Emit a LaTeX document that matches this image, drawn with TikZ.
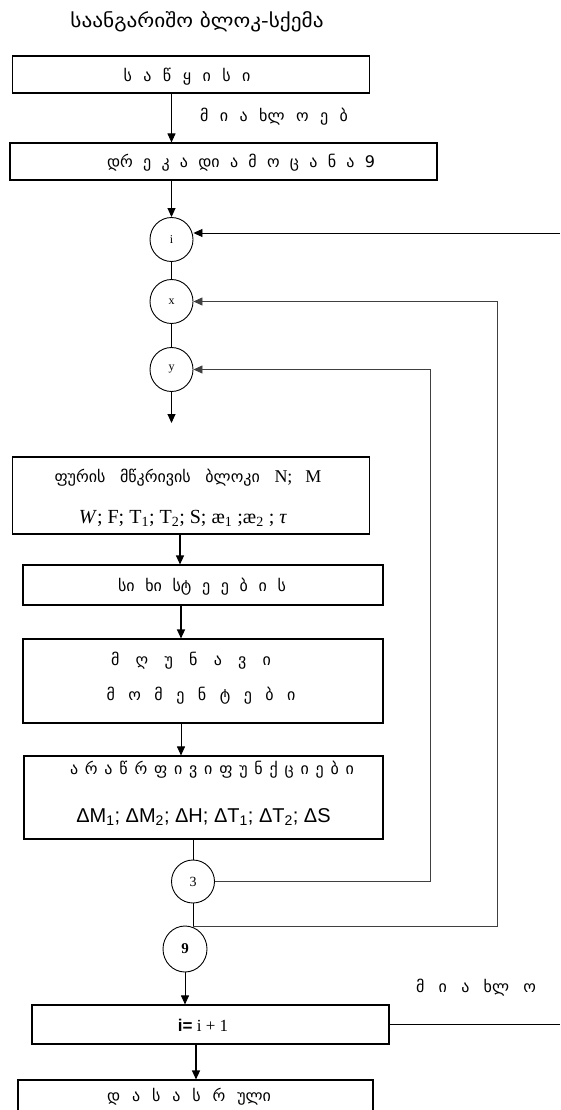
\documentclass[tikz,border=0pt]{standalone}
\usepackage{graphicx}
\usepackage{fontspec}
\setmainfont{Liberation Serif}
\newfontfamily\geo{DejaVu Sans}
\newfontfamily\lsans{Liberation Sans}
\usetikzlibrary{arrows.meta,shapes.geometric}
\begin{document}
\begin{tikzpicture}[x=1pt,y=-1pt,
  box/.style={draw,line width=1.1pt,rectangle,inner sep=0pt},
  conn/.style={ellipse,draw,line width=0.9pt,inner sep=0pt,minimum width=43pt,minimum height=44pt,font=\rmfamily\fontsize{12}{14}\selectfont},
  ln/.style={line width=0.9pt},
  arr/.style={ln,-{Triangle[length=9pt,width=8pt]}},
  loop/.style={arr,line width=0.8pt,draw=black!75},
  gt/.style={inner sep=0pt,font=\geo\fontsize{16}{18}\selectfont},
  lt/.style={inner sep=0pt,font=\rmfamily\fontsize{20}{22}\selectfont},
  st/.style={inner sep=0pt,font=\lsans\fontsize{20}{22}\selectfont},
  ]
\useasboundingbox (0,0) rectangle (560,1110);
% title
\node[inner sep=0pt,font=\geo\fontsize{19}{21}\selectfont] (title) at (197,22) {\scalebox{1.12}[1]{საანგარიშო ბლოკ-სქემა}};
% box 1
\node[box,minimum width=357pt,minimum height=37pt] (b1) at (191,74.5) {};
\node[gt] (t1) at (187,77) {\hbox to 127pt{ს ა წ ყ ი ს ი}};
\node[gt] (l1) at (274,117) {\hbox to 148pt{მ ი ა ხლ ო ე ბ}};
% box 2
\node[box,minimum width=427pt,minimum height=37pt] (b2) at (223.5,161.5) {};
\node[gt] (t2) at (241,163) {\hbox to 268pt{დრ ე კ ა დი ა მ ო ც ა ნ ა 9}};
% connectors i x y
\node[conn] (ci) at (171.5,239.5) {i};
\node[conn] (cx) at (171.5,301.5) {x};
\node[conn] (cy) at (171.5,369.5) {y};
\coordinate (cyo) at (171.5,423);
% box 3
\node[box,minimum width=357pt,minimum height=77pt] (b3) at (191,495.5) {};
\node[gt] (t3a) at (188,478) {\hbox to 267pt{ფურის მწკრივის ბლოკი {\rmfamily\fontsize{18}{20}\selectfont N; M}}};
\node[lt] (t3b) at (183,518) {\textit{W}; F; T\textsubscript{1}; T\textsubscript{2}; S; æ\textsubscript{1} ;æ\textsubscript{2} ; \textit{τ}};
% box 4
\node[box,minimum width=360pt,minimum height=40pt] (b4) at (203,585) {};
\node[gt] (t4) at (202,587) {\hbox to 168pt{სი ხი სტ ე ე ბ ი ს}};
% box 5
\node[box,minimum width=360pt,minimum height=84pt] (b5) at (203,681) {};
\node[gt] (t5a) at (191,661) {\hbox to 160pt{მ ღ უ ნ ა ვ ი}};
\node[gt] (t5b) at (201,696) {\hbox to 189pt{მ ო მ ე ნ ტ ე ბ ი}};
% box 6
\node[box,minimum width=359pt,minimum height=83pt] (b6) at (203.5,797.5) {};
\node[gt] (t6a) at (212,770) {\hbox to 284pt{ა რ ა წ რ ფ ი ვ ი ფ უ ნ ქ ც ი ე ბ ი}};
\node[st] (t6b) at (203.5,817) {ΔM\textsubscript{1}; ΔM\textsubscript{2}; ΔH; ΔT\textsubscript{1}; ΔT\textsubscript{2}; ΔS};
% connectors 3 and 9
\node[conn,minimum width=43pt,minimum height=43pt,font=\rmfamily\fontsize{14}{16}\selectfont] (c3) at (193,881.5) {3};
\coordinate (j) at (193,926);
\node[conn,minimum width=44pt,minimum height=46pt,font=\rmfamily\bfseries\fontsize{15}{17}\selectfont] (c9) at (185,949) {9};
% box 7
\node[box,minimum width=357pt,minimum height=39pt] (b7) at (210.5,1024.5) {};
\node[inner sep=0pt,font=\rmfamily\fontsize{17}{19}\selectfont] (t7) at (203,1025) {{\lsans\bfseries i=} i + 1};
\node[gt] (l2) at (476,988) {\hbox to 120pt{მ ი ა ხლ ო}};
\coordinate (r7) at (560,1024.5);
% box 8
\node[box,minimum width=355pt,minimum height=50pt] (b8) at (195.5,1105) {};
\node[gt] (t8) at (189,1097) {\hbox to 164pt{დ ა ს ა ს რ ული}};
\coordinate (re) at (560,233);
% main flow
\draw[arr] (b1.south -| ci) -- (b2.north -| ci);
\draw[arr] (b2.south -| ci) -- (ci.north);
\draw[ln] (ci) -- (cx);
\draw[ln] (cx) -- (cy);
\draw[arr] (cy.south) -- (cyo);
\draw[arr,line width=1.2pt] ([xshift=-11pt]b3.south) -- ([xshift=-11pt]b3.south |- b4.north);
\draw[arr,line width=1.2pt] ([xshift=-22pt]b4.south) -- ([xshift=-22pt]b4.south |- b5.north);
\draw[arr] ([xshift=-22pt]b5.south) -- ([xshift=-22pt]b5.south |- b6.north);
\draw[ln] (b6.south -| c3) -- (c3.north);
\draw[ln] (c3.south) -- (j);
\draw[arr] (c9.south) -- (c9.south |- b7.north);
\draw[arr,line width=1.2pt] ([xshift=-14.5pt]b7.south) -- ([xshift=-14.5pt]b7.south |- b8.north);
% loops
\draw[loop] (c3.east) -| ([xshift=237pt]cy.east) -- (cy.east);
\draw[loop] (j) -| ([xshift=304pt]cx.east) -- (cx.east);
\draw[arr] (re) -- (re -| ci.east);
\draw[ln] (b7.east) -- (r7);
\end{tikzpicture}
\end{document}
